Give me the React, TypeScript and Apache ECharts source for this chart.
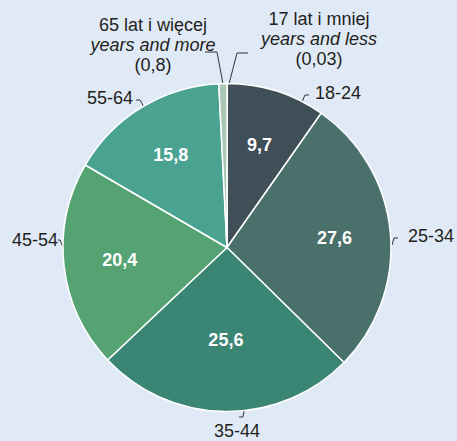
import React, { useEffect, useRef } from "react";
import * as echarts from "echarts";

const categories = ["17 lat i mniej", "18-24", "25-34", "35-44", "45-54", "55-64", "65 lat i więcej"];
const subtitles = ["years and less", "", "", "", "", "", "years and more"];
const values = [0.03, 9.7, 27.6, 25.6, 20.4, 15.8, 0.8];
const colors = ["#6db3c9", "#3f4e57", "#4a706c", "#3a8573", "#55a272", "#4aa391", "#aac7b5"];

// label placement (layout only)
const outerLayout = [
  { x: 319, y: 39, align: "center", line: [[229, 84], [237, 53], [248, 53]] },
  { x: 315, y: 93, align: "left", line: [[302, 102], [305, 95], [309, 95]] },
  { x: 408, y: 236, align: "left", line: [[392, 245], [394, 238], [398, 238]] },
  { x: 237, y: 431, align: "center", line: [[244, 411], [243, 417], [239, 417]] },
  { x: 58, y: 240, align: "right", line: [[63, 247], [60, 240], [58, 240]] },
  { x: 133, y: 98, align: "right", line: [[144, 107], [140, 100], [136, 100]] },
  { x: 153, y: 45, align: "center", line: [[223, 84], [217, 52], [205, 52]] },
];

const fmt = (v: number) => String(v).replace(".", ",");
const FONT = "'Liberation Sans', Arial, sans-serif";
const CENTER = [227, 247.5];
const R = 164;

export default function App() {
  const ref = useRef<HTMLDivElement>(null);
  useEffect(() => {
    if (!ref.current) return;
    const chart = echarts.init(ref.current, null, { renderer: "svg" });
    const mainData = categories.map((name, i) => {
      const small = subtitles[i] !== "";
      return {
        name,
        value: values[i],
        itemStyle: { color: colors[i] },
        label: small
          ? { formatter: `{a|${name}}\n{b|${subtitles[i]}}\n{a|(${fmt(values[i])})}` }
          : { formatter: `{a|${name}}` },
      };
    });
    const valueData = categories.map((name, i) => ({
      name,
      value: values[i],
      label: { show: subtitles[i] === "" },
    }));
    chart.setOption({
      animation: false,
      backgroundColor: "#e0eaf6",
      series: [
        {
          type: "pie",
          center: CENTER,
          radius: R,
          startAngle: 90,
          clockwise: true,
          avoidLabelOverlap: false,
          minShowLabelAngle: 0,
          itemStyle: { borderColor: "#ffffff", borderWidth: 1.5 },
          emphasis: { disabled: true },
          label: {
            show: true,
            position: "outside",
            color: "#231f20",
            fontFamily: FONT,
            fontSize: 18,
            rich: {
              a: { fontFamily: FONT, fontSize: 18, color: "#231f20", lineHeight: 20 },
              b: { fontFamily: FONT, fontSize: 18, color: "#231f20", lineHeight: 20, fontStyle: "italic" },
            },
          },
          labelLine: { show: true, length: 5, length2: 5, lineStyle: { color: "#333333", width: 1 } },
          labelLayout: (params: any) => {
            const c = outerLayout[params.dataIndex];
            return {
              x: c.x,
              y: c.y,
              align: c.align,
              verticalAlign: "middle",
              labelLinePoints: c.line,
            };
          },
          data: mainData,
        },
        {
          type: "pie",
          center: CENTER,
          radius: [R * 0.28, R],
          startAngle: 90,
          clockwise: true,
          silent: true,
          avoidLabelOverlap: false,
          itemStyle: { color: "rgba(0,0,0,0)", borderWidth: 0 },
          emphasis: { disabled: true },
          label: {
            show: true,
            position: "inside",
            color: "#ffffff",
            fontFamily: FONT,
            fontSize: 18,
            fontWeight: "bold",
            formatter: (p: any) => fmt(p.value),
          },
          labelLine: { show: false },
          labelLayout: (params: any) => (params.dataIndex === 3 ? { dy: -15 } : {}),
          data: valueData,
        },
      ],
    });
    return () => chart.dispose();
  }, []);
  return (
    <div
      ref={ref}
      style={{ position: "fixed", left: 0, top: 0, width: 457, height: 441 }}
    />
  );
}
